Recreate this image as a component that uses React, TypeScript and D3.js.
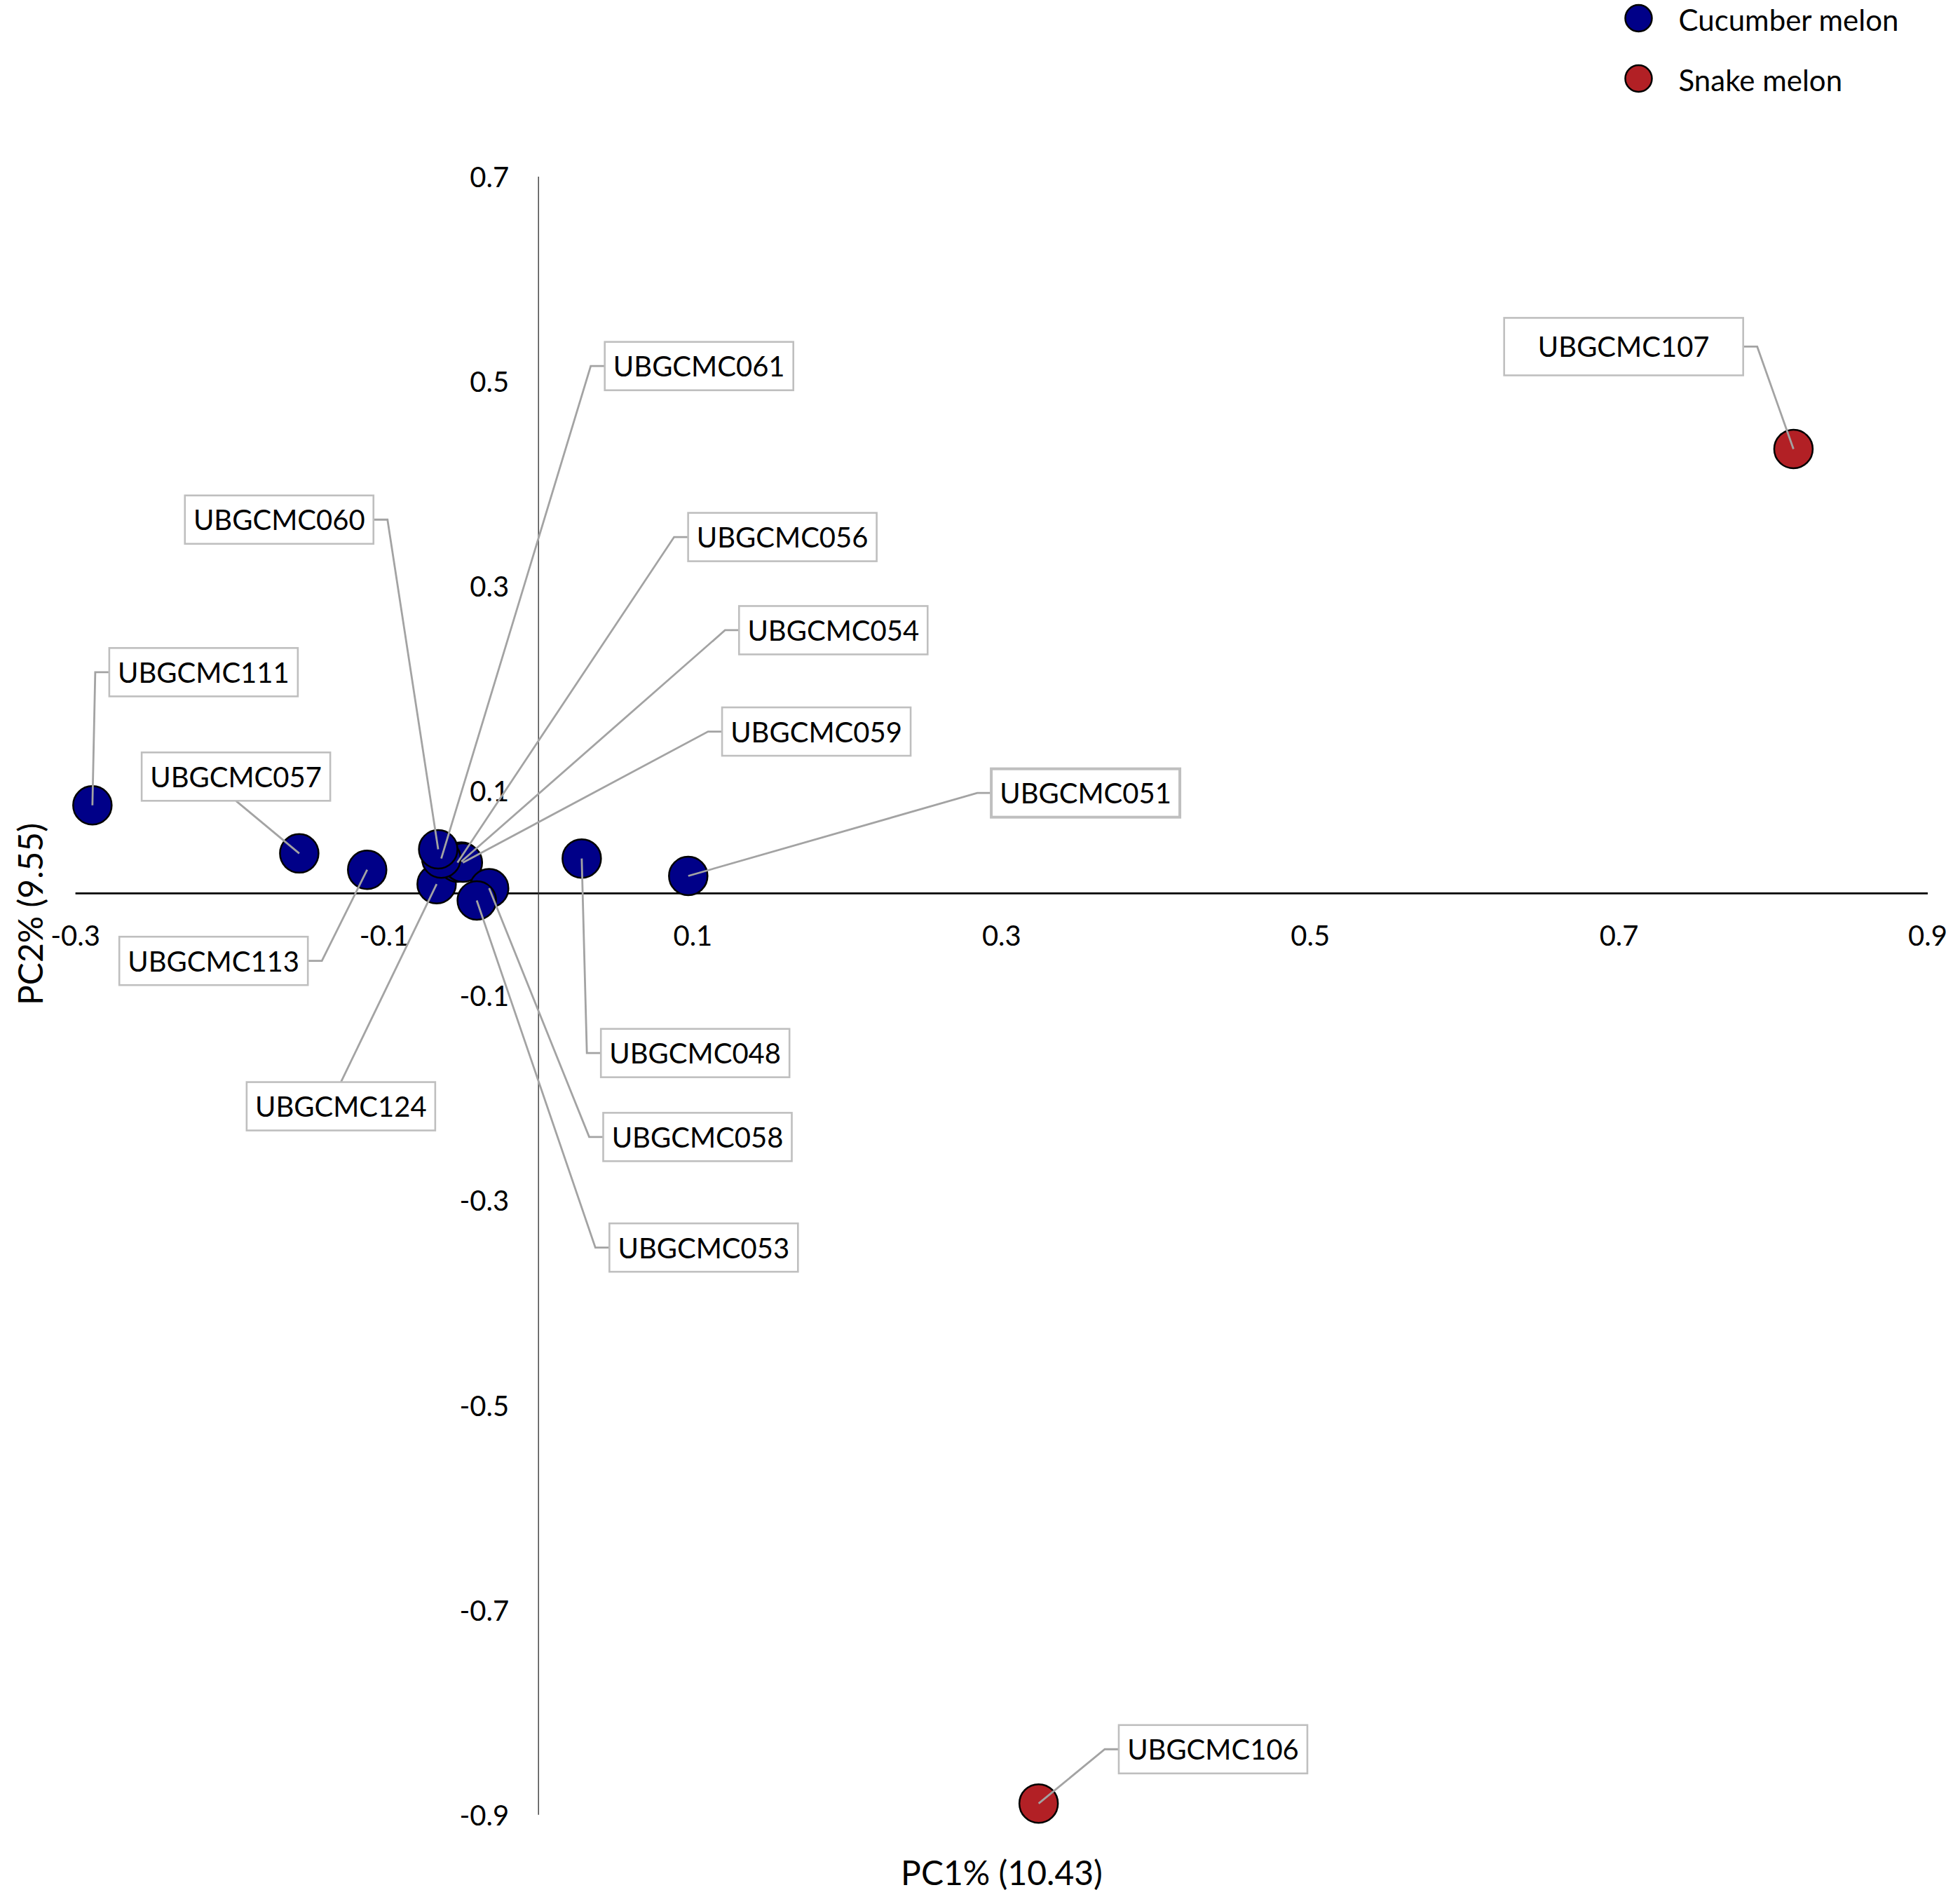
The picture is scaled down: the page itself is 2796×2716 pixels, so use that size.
import { useMemo } from "react";
import * as d3 from "d3";

const WIDTH = 2796;
const HEIGHT = 2716;

// sample ids, PC1 and PC2 scores, group
const names = [
  "UBGCMC124", "UBGCMC056", "UBGCMC054", "UBGCMC059", "UBGCMC061", "UBGCMC060",
  "UBGCMC058", "UBGCMC053", "UBGCMC111", "UBGCMC057", "UBGCMC113", "UBGCMC048",
  "UBGCMC051", "UBGCMC107", "UBGCMC106",
];
const pc1 = [-0.066, -0.0525, -0.050, -0.049, -0.063, -0.065, -0.032, -0.040, -0.289, -0.155, -0.111, 0.028, 0.097, 0.813, 0.324];
const pc2 = [0.009, 0.030, 0.031, 0.030, 0.034, 0.043, 0.005, -0.007, 0.086, 0.039, 0.023, 0.034, 0.017, 0.434, -0.889];
const groups = ["C", "C", "C", "C", "C", "C", "C", "C", "C", "C", "C", "C", "C", "S", "S"];

const seriesNames = ["Cucumber melon", "Snake melon"];
const seriesKeys = ["C", "S"];
const seriesColors = ["#000088", "#B22025"];

const xTicks = [-0.3, -0.1, 0.1, 0.3, 0.5, 0.7, 0.9];
const yTicks = [0.7, 0.5, 0.3, 0.1, -0.1, -0.3, -0.5, -0.7, -0.9];

// data-label placement (label centre in data units) and leader side
const labelX = [-0.128, 0.158, 0.191, 0.180, 0.104, -0.168, 0.103, 0.107, -0.217, -0.196, -0.2105, 0.1015, 0.3544, 0.703, 0.437];
const labelY = [-0.208, 0.348, 0.257, 0.158, 0.515, 0.365, -0.238, -0.346, 0.216, 0.114, -0.066, -0.156, 0.098, 0.534, -0.836];
const labelSide = ["top", "left", "left", "left", "left", "right", "left", "left", "left", "bottom", "right", "left", "left", "right", "left"];

const FONT = "Lato, 'Open Sans', sans-serif";

export default function App() {
  const x = useMemo(() => d3.scaleLinear().domain([-0.3, 0.9]).range([107.6, 2750]), []);
  const y = useMemo(() => d3.scaleLinear().domain([-0.9, 0.7]).range([2588.7, 252]), []);
  const color = d3.scaleOrdinal<string, string>().domain(seriesKeys).range(seriesColors);

  const stub = 20;
  const labels = names.map((n, i) => {
    const big = n === "UBGCMC107";
    const w = big ? 341 : 269;
    const h = big ? 82 : 69;
    const cx = x(labelX[i]);
    const cy = y(labelY[i]);
    const px = x(pc1[i]);
    const py = y(pc2[i]);
    const x0 = cx - w / 2, x1 = cx + w / 2, y0 = cy - h / 2, y1 = cy + h / 2;
    let pts: [number, number][];
    switch (labelSide[i]) {
      case "left": pts = [[x0, cy], [x0 - stub, cy], [px, py]]; break;
      case "right": pts = [[x1, cy], [x1 + stub, cy], [px, py]]; break;
      case "top": pts = [[cx, y0], [px, py]]; break;
      default: pts = [[cx, y1], [px, py]];
    }
    return { n, i, cx, cy, w, h, x0, y0, path: d3.line()(pts) || "" };
  });

  return (
    <div style={{ position: "absolute", left: 0, top: 0, background: "#fff" }}>
      <svg width={WIDTH} height={HEIGHT} style={{ display: "block" }} fontFamily={FONT}>
        <rect width={WIDTH} height={HEIGHT} fill="#fff" />

        {/* axes through origin */}
        <line x1={x(-0.3)} x2={x(0.9)} y1={y(0)} y2={y(0)} stroke="#000" strokeWidth={2.8} />
        <line x1={x(0)} x2={x(0)} y1={y(0.7)} y2={y(-0.9)} stroke="#3a3a3a" strokeWidth={1.4} />

        {xTicks.map((t) => (
          <text key={"x" + t} x={x(t)} y={y(0) + 60} textAnchor="middle" dominantBaseline="central" fontSize={40} fill="#000">
            {t.toFixed(1)}
          </text>
        ))}
        {yTicks.map((t) => (
          <text key={"y" + t} x={x(0) - 42} y={y(t)} textAnchor="end" dominantBaseline="central" fontSize={40} fill="#000">
            {t.toFixed(1)}
          </text>
        ))}

        {/* points */}
        {names.map((n, i) => (
          <circle key={n} cx={x(pc1[i])} cy={y(pc2[i])} r={27.5} fill={color(groups[i])} stroke="#000" strokeWidth={2.5} />
        ))}

        {/* leader lines */}
        {labels.map((l) => (
          <path key={"l" + l.n} d={l.path} fill="none" stroke="#a3a3a3" strokeWidth={2.8} />
        ))}

        {/* label boxes */}
        {labels.map((l) => (
          <g key={"b" + l.n}>
            <rect x={l.x0} y={l.y0} width={l.w} height={l.h} fill="#fff" stroke="#bfbfbf"
              strokeWidth={l.n === "UBGCMC051" ? 4 : 2.6} />
            <text x={l.cx} y={l.cy} textAnchor="middle" dominantBaseline="central" fontSize={40} fill="#000">
              {l.n}
            </text>
          </g>
        ))}

        {/* axis titles */}
        <text x={1429} y={2670} textAnchor="middle" dominantBaseline="central" fontSize={48} fill="#000">
          PC1% (10.43)
        </text>
        <text transform={`translate(42,1304) rotate(-90)`} textAnchor="middle" dominantBaseline="central" fontSize={48} fill="#000">
          PC2% (9.55)
        </text>

        {/* legend */}
        {seriesNames.map((s, i) => (
          <g key={s} transform={`translate(2337.5,${26 + i * 86})`}>
            <circle r={19} fill={seriesColors[i]} stroke="#000" strokeWidth={2.5} />
            <text x={57} y={2} dominantBaseline="central" fontSize={42} fill="#000">{s}</text>
          </g>
        ))}
      </svg>
    </div>
  );
}
